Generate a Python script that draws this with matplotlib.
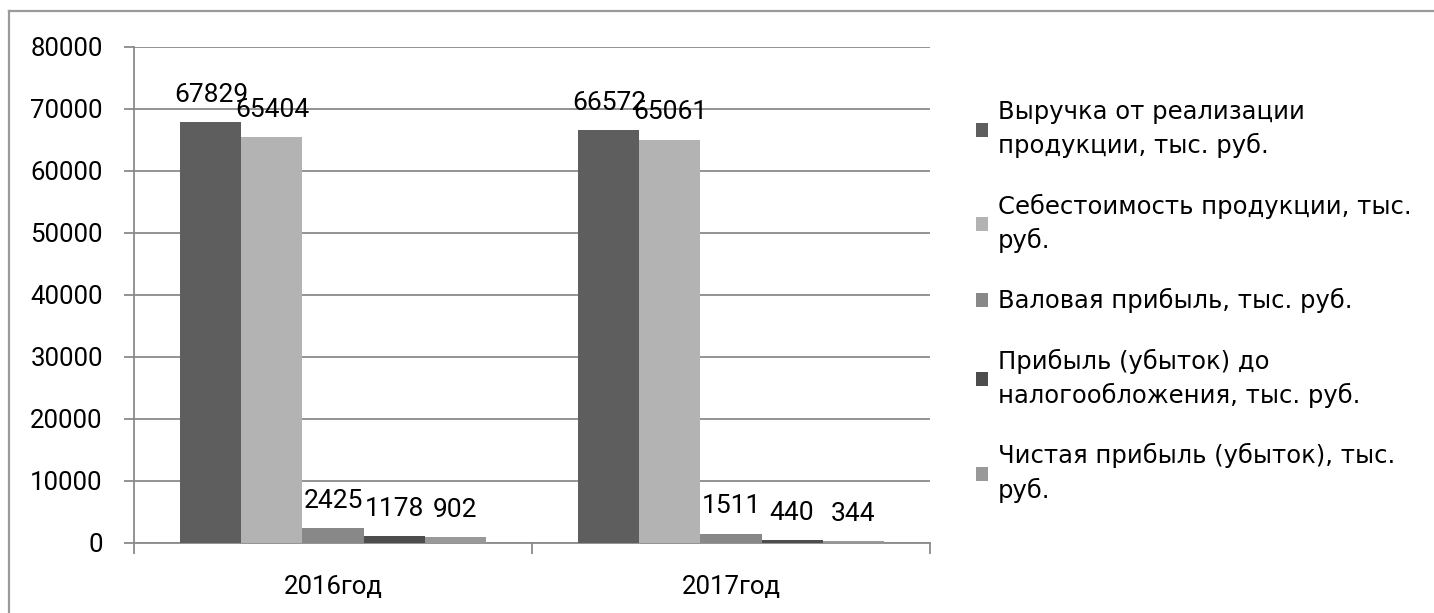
import matplotlib.pyplot as plt
from matplotlib.lines import Line2D
import numpy as np

# Data
years = ['2016год', '2017год']
series_names = [
    'Выручка от реализации\nпродукции, тыс. руб.',
    'Себестоимость продукции, тыс.\nруб.',
    'Валовая прибыль, тыс. руб.',
    'Прибыль (убыток) до\nналогообложения, тыс. руб.',
    'Чистая прибыль (убыток), тыс.\nруб.',
]
revenue = [67829, 66572]
cost = [65404, 65061]
gross_profit = [2425, 1511]
pretax_profit = [1178, 440]
net_profit = [902, 344]
series_values = [revenue, cost, gross_profit, pretax_profit, net_profit]
colors = ['#5e5e5e', '#b3b3b3', '#888888', '#4d4d4d', '#999999']

num_font = 'Roboto'
legend_font = 'DejaVu Sans'

fig = plt.figure(figsize=(14.34, 6.13), dpi=100)
ax = fig.add_axes([134 / 1434, 70 / 613, 796 / 1434, 496 / 613])

x = np.arange(len(years))
width = 0.1533
for i, (name, vals, c) in enumerate(zip(series_names, series_values, colors)):
    pos = x + (i - 2) * width
    ax.bar(pos, vals, width, color=c, label=name, zorder=3)
    for px, v in zip(pos, vals):
        ax.annotate(str(v), (px, v), xytext=(0, 14.5), textcoords='offset points',
                    ha='center', va='baseline', fontsize=19, family=num_font,
                    zorder=4)

grid_c = '#8a8a8a'
ax.set_ylim(0, 80000)
ax.set_xlim(-0.5, 1.5)
ax.set_yticks(np.arange(0, 80001, 10000))
ax.yaxis.grid(True, color=grid_c, linewidth=1.3, zorder=1)
ax.tick_params(axis='y', length=7.5, width=1.3, color=grid_c, pad=15,
               labelsize=18.5)
for lab in ax.get_yticklabels():
    lab.set_family(num_font)

# category boundaries as major ticks, names as minor ticks
ax.set_xticks([-0.5, 0.5, 1.5])
ax.set_xticklabels([])
ax.set_xticks(x, minor=True)
ax.set_xticklabels(years, minor=True, fontsize=18.5, family=num_font)
ax.tick_params(axis='x', which='major', length=8, width=1.3, color=grid_c)
ax.tick_params(axis='x', which='minor', length=0, pad=23)

for s in ['top', 'right']:
    ax.spines[s].set_visible(False)
for s in ['left', 'bottom']:
    ax.spines[s].set_color(grid_c)
    ax.spines[s].set_linewidth(1.3)

leg = fig.legend(loc='upper left', bbox_to_anchor=(964 / 1434, 1 - 88 / 613),
                 frameon=False, borderpad=0, handlelength=0.5, handleheight=0.5,
                 handletextpad=0.4, labelspacing=1.45,
                 prop={'family': legend_font, 'size': 17.5})
for t in leg.get_texts():
    t.set_linespacing(1.45)

# outer chart border (top and left edges are visible)
fig.add_artist(Line2D([9 / 1434, 1], [1 - 11 / 613, 1 - 11 / 613], color='#9a9a9a', lw=1.6))
fig.add_artist(Line2D([9 / 1434, 9 / 1434], [0, 1 - 11 / 613], color='#9a9a9a', lw=1.6))

fig.savefig('out.png', dpi=100)
